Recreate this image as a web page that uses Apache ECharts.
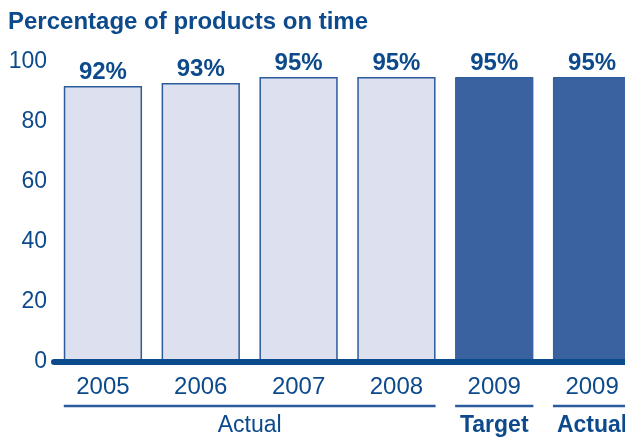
<!DOCTYPE html>
<html>
<head>
<meta charset="utf-8">
<script src="https://cdn.jsdelivr.net/npm/echarts@6/dist/echarts.min.js"></script>
<style>
html,body{margin:0;padding:0;background:#fff;}
#c{width:625px;height:437px;}
</style>
</head>
<body>
<div id="c"></div>
<script>
var titleText = 'Percentage of products on time';
var years = ['2005', '2006', '2007', '2008', '2009', '2009'];
var values = [92, 93, 95, 95, 95, 95];
var highlighted = [false, false, false, false, true, true];
var yTicks = [0, 20, 40, 60, 80, 100];
var groupLabels = ['Actual', 'Target', 'Actual'];
var groupStart = [0, 4, 5];
var groupEnd = [3, 4, 5];
var groupBold = [false, true, true];

var TEXT = '#0d4a8c';
var FONT = '"Liberation Sans", Arial, Helvetica, sans-serif';

var chart = echarts.init(document.getElementById('c'), null, {renderer: 'canvas'});

var barData = values.map(function (v, i) {
  return {
    value: v,
    itemStyle: highlighted[i]
      ? {color: '#3a62a0', borderColor: '#2c5b9b', borderWidth: 1}
      : {color: '#dde1ef', borderColor: '#2c5b9b', borderWidth: 1.5}
  };
});

var groupData = groupLabels.map(function (g, i) {
  return [groupStart[i], groupEnd[i], 0];
});

chart.setOption({
  animation: false,
  backgroundColor: '#ffffff',
  title: {
    text: titleText,
    left: 3,
    top: 5,
    textStyle: {fontFamily: FONT, fontSize: 24, fontWeight: 'bold', color: TEXT}
  },
  grid: {left: 54, right: -16, top: 62, bottom: 75, containLabel: false, outerBoundsMode: 'none'},
  xAxis: {
    type: 'category',
    data: years,
    z: 5,
    axisLine: {show: true, lineStyle: {color: '#0b4a8c', width: 6}},
    axisTick: {show: false},
    axisLabel: {fontFamily: FONT, fontSize: 24, color: TEXT, margin: 13, interval: 0}
  },
  yAxis: {
    type: 'value',
    min: yTicks[0],
    max: yTicks[yTicks.length - 1],
    interval: yTicks[1] - yTicks[0],
    splitLine: {show: false},
    axisLine: {show: false},
    axisTick: {show: false},
    axisLabel: {fontFamily: FONT, fontSize: 23, color: TEXT, margin: 7}
  },
  series: [
    {
      type: 'bar',
      data: barData,
      barWidth: '80%',
      label: {
        show: true,
        position: 'top',
        distance: 2,
        formatter: '{c}%',
        fontFamily: FONT,
        fontSize: 24,
        fontWeight: 'bold',
        color: TEXT
      }
    },
    {
      type: 'custom',
      clip: false,
      silent: true,
      data: groupData,
      encode: {x: [0, 1], y: 2},
      renderItem: function (params, api) {
        var s = api.value(0), e = api.value(1);
        var p0 = api.coord([s, 0]);
        var p1 = api.coord([e, 0]);
        var band = api.size([1, 0])[0];
        var half = band * 0.4;
        var x0 = p0[0] - half, x1 = p1[0] + half;
        var y = p0[1] + 44;
        var i = params.dataIndex;
        return {
          type: 'group',
          children: [
            {type: 'line', shape: {x1: x0, y1: y, x2: x1, y2: y},
             style: {stroke: '#2c5b9b', lineWidth: 2.5}},
            {type: 'text',
             style: {text: groupLabels[i], x: (x0 + x1) / 2, y: y + 8,
                     align: 'center', verticalAlign: 'top',
                     font: (groupBold[i] ? 'bold ' : '') + '23px ' + FONT,
                     fill: TEXT}}
          ]
        };
      }
    }
  ]
});
</script>
</body>
</html>
